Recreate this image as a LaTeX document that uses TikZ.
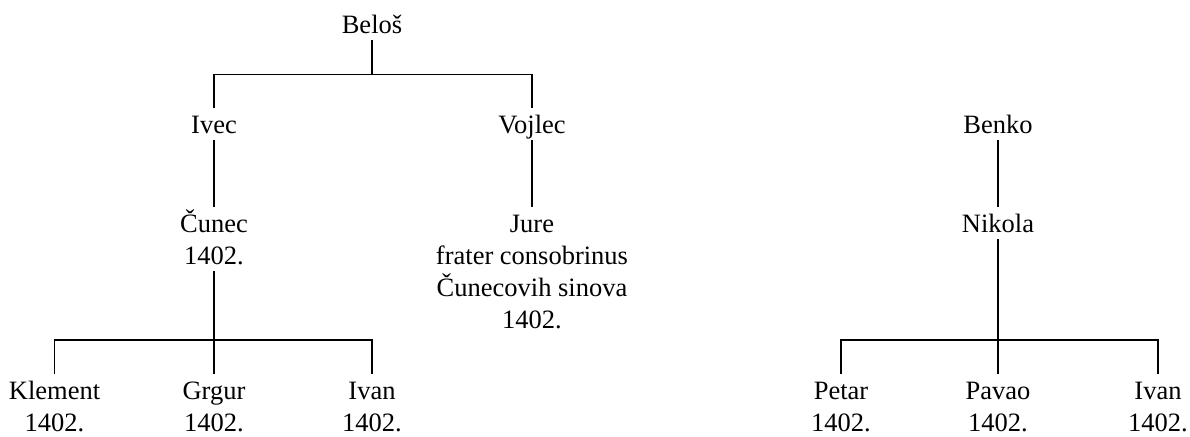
\documentclass[tikz,border=0pt]{standalone}
\usepackage{fontspec}
\setmainfont{Liberation Serif}
\usetikzlibrary{calc}
\newcommand{\nstrut}{\rule[-7pt]{0pt}{32pt}}
\newcommand{\who}[1]{\nstrut#1\nstrut}

\begin{document}
\begin{tikzpicture}[
  x=1pt,y=1pt,
  every node/.style={font=\fontsize{26.5}{32}\selectfont,align=center},
  person/.style={inner sep=0pt,anchor=north},
  tie/.style={line width=1.7pt,black}
]
\useasboundingbox (0,0) rectangle (1190,-436);
% left family
\node[person] (belos) at (372,-8) {\who{Beloš}};
\node[person] (ivec) at (214,-108) {\who{Ivec}};
\node[person] (vojlec) at (532,-108) {\who{Vojlec}};
\node[person] (cunec) at (214,-207) {\who{Čunec\\1402.}};
\node[person] (jure) at (532,-207) {\who{Jure\\frater consobrinus\\Čunecovih sinova\\1402.}};
\node[person] (klement) at (54.5,-374) {\who{Klement\\1402.}};
\node[person] (grgur) at (214,-374) {\who{Grgur\\1402.}};
\node[person] (ivan) at (372,-374) {\who{Ivan\\1402.}};
% right family
\node[person] (benko) at (998,-108) {\who{Benko}};
\node[person] (nikola) at (998,-207) {\who{Nikola}};
\node[person] (petar) at (841,-374) {\who{Petar\\1402.}};
\node[person] (pavao) at (998,-374) {\who{Pavao\\1402.}};
\node[person] (ivanb) at (1158,-374) {\who{Ivan\\1402.}};
% connectors
\coordinate (topbar) at ($(belos.south)+(0,-34)$);
\draw[tie] (belos.south) -- (topbar);
\draw[tie] (ivec.north) |- (topbar) -| (vojlec.north);
\draw[tie] (ivec.south) -- (cunec.north);
\draw[tie] (vojlec.south) -- (jure.north);
\coordinate (cbar) at ($(grgur.north)+(0,34)$);
\draw[tie] (cunec.south) -- (grgur.north);
\draw[tie] (klement.north) |- (cbar) -| (ivan.north);
\draw[tie] (benko.south) -- (nikola.north);
\coordinate (nbar) at ($(pavao.north)+(0,34)$);
\draw[tie] (nikola.south) -- (pavao.north);
\draw[tie] (petar.north) |- (nbar) -| (ivanb.north);
\end{tikzpicture}
\end{document}
